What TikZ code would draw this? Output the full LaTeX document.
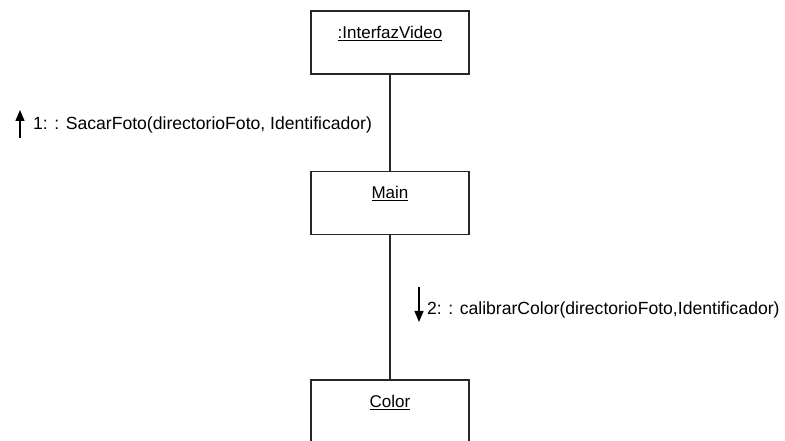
\documentclass[tikz,border=0pt]{standalone}
\usepackage{fontspec}
\setmainfont{Liberation Sans}
\usetikzlibrary{arrows.meta}

\begin{document}
\begin{tikzpicture}[x=1pt,y=1pt,
    objeto/.style={draw=black!85,line width=1.2pt,minimum width=158pt,minimum height=63pt,
        label={[anchor=base,label distance=-28pt,font=\fontsize{17}{20}\selectfont]north:\underline{#1}}},
    enlace/.style={draw=black!85,line width=1.2pt},
    mensaje/.style={inner sep=0pt,anchor=west,font=\fontsize{17.6}{20}\selectfont},
    flecha/.style={line width=1.3pt,-{Triangle[length=11pt,width=9pt]}}]

\useasboundingbox (0,0) rectangle (785,441);
\clip (0,0) rectangle (785,441);

\node[objeto=:InterfazVideo] (video) at (390,398.5) {};
\node[objeto=Main] (main) at (390,238) {};
\node[objeto=Color] (color) at (390,29.5) {};

\draw[enlace] (video.south)--(main.north);
\draw[enlace] (main.south)--(color.north);

\node[mensaje] (msg1) at (33,316) {1: : SacarFoto(directorioFoto, Identificador)};
\draw[flecha] ([xshift=-13pt,yshift=-13pt]msg1.west)--++(0,28);

\node[mensaje] (msg2) at (427,131) {2: : calibrarColor(directorioFoto,Identificador)};
\draw[flecha] ([xshift=-8pt,yshift=23pt]msg2.west)--++(0,-35);
\end{tikzpicture}
\end{document}
